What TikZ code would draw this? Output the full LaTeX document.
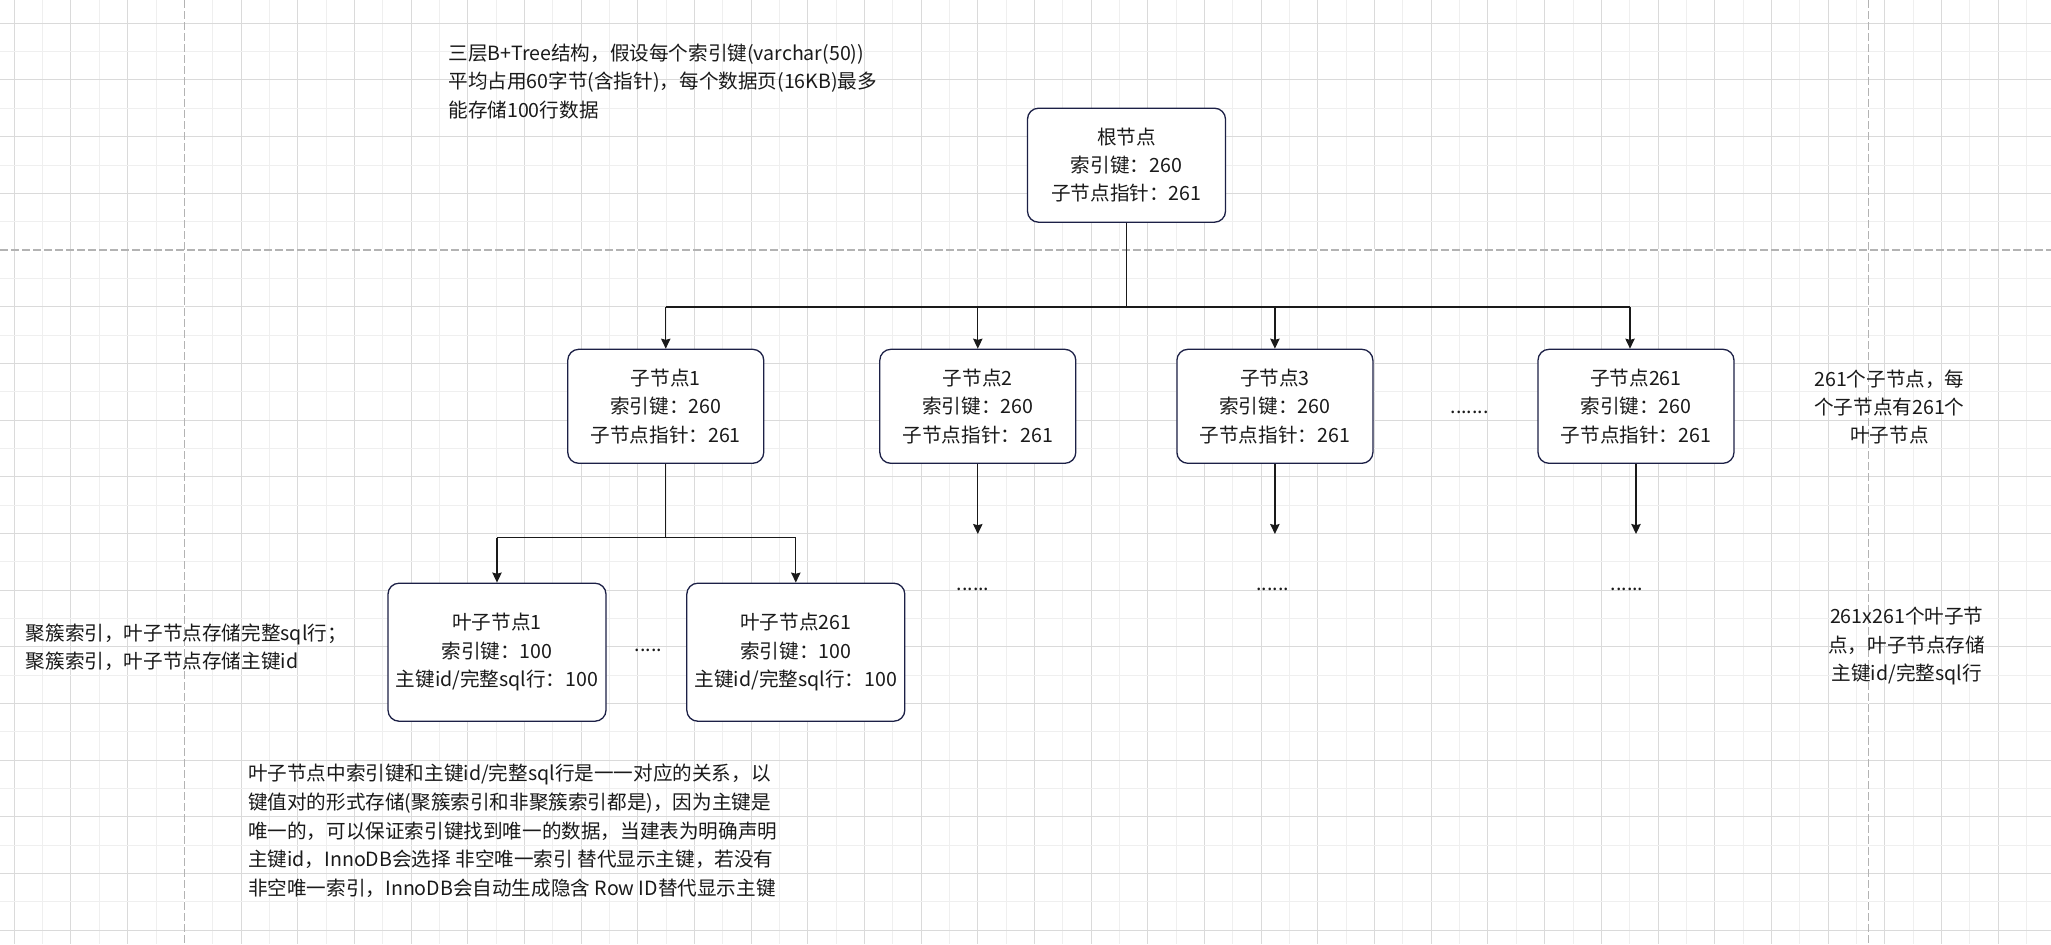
\documentclass[tikz,border=0pt]{standalone}
\usepackage{fontspec}
\setmainfont{Noto Sans CJK SC}
\usetikzlibrary{arrows.meta,calc}
\definecolor{gridD}{HTML}{DADADA}
\definecolor{gridL}{HTML}{EFEFEF}
\definecolor{pageb}{HTML}{B3B3B3}
\definecolor{boxc}{HTML}{1C2046}
\definecolor{txt}{HTML}{1A1A1A}
\begin{document}
\begin{tikzpicture}[x=0.5pt,y=-0.5pt,
  font=\fontsize{9.8pt}{14.15pt}\selectfont, text=txt,
  box/.style={draw=boxc, line width=0.65pt, rounded corners=5.5pt, fill=white, align=center, inner sep=0pt},
  childbox/.style={box, minimum width=98pt, minimum height=57pt},
  leafbox/.style={box, minimum width=109pt, minimum height=69pt},
  ln/.style={draw=txt, line width=0.65pt},
  arr/.style={draw=txt, line width=0.65pt, -{Stealth[length=5pt,width=4.7pt,inset=0.6pt]}},
  note/.style={inner sep=0pt},
  dots/.style={inner sep=0pt}]
\useasboundingbox (0,0) rectangle (2051,944);
\fill[white] (0,0) rectangle (2051,944);
% grid
\foreach \k in {0,...,71}{
  \pgfmathsetmacro\xx{14.3+\k*28.34}
  \ifodd\k \def\gc{gridL}\else \def\gc{gridD}\fi
  \draw[\gc, line width=0.5pt] (\xx,0) -- (\xx,944);
}
\foreach \k in {0,...,32}{
  \pgfmathsetmacro\yy{23.3+\k*28.34}
  \ifodd\k \def\gc{gridL}\else \def\gc{gridD}\fi
  \draw[\gc, line width=0.5pt] (0,\yy) -- (2051,\yy);
}
% page breaks
\draw[white, line width=0.6pt] (184.3,0) -- (184.3,944) (1868.3,0) -- (1868.3,944) (0,250) -- (2051,250);
\draw[pageb, line width=0.6pt, dash pattern=on 4pt off 1.5pt] (184.3,0) -- (184.3,944);
\draw[pageb, line width=0.6pt, dash pattern=on 4pt off 1.5pt] (1868.3,0) -- (1868.3,944);
\draw[pageb, line width=0.6pt, dash pattern=on 4pt off 1.5pt] (0,250) -- (2051,250);

% nodes
\node[box, minimum width=99pt, minimum height=57pt] (root) at (1126.5,165.2) {根节点\\索引键：260\\子节点指针：261};
\node[childbox] (c1) at (665.75,406.3) {子节点1\\索引键：260\\子节点指针：261};
\node[childbox] (c2) at (977.8,406.3) {子节点2\\索引键：260\\子节点指针：261};
\node[childbox] (c3) at (1274.9,406.3) {子节点3\\索引键：260\\子节点指针：261};
\node[childbox] (c261) at (1636,406.3) {子节点261\\索引键：260\\子节点指针：261};
\node[leafbox] (l1) at (497,652.2) {叶子节点1\\索引键：100\\主键id/完整sql行：100};
\node[leafbox] (l261) at (795.8,652.2) {叶子节点261\\索引键：100\\主键id/完整sql行：100};

% connectors
\coordinate (bus) at (0,307);
\coordinate (lbus) at (0,537.6);
\coordinate (ebus) at (0,534);
\coordinate (c261in) at ([xshift=-3pt]c261.north);
\draw[ln] (root.south) -- (root.south |- bus);
\draw[ln] (c1.north |- bus) -- (c261in |- bus);
\draw[arr] (c1.north |- bus) -- (c1.north);
\draw[arr] (c2.north |- bus) -- (c2.north);
\draw[arr] (c3.north |- bus) -- (c3.north);
\draw[arr] (c261in |- bus) -- (c261in);
\draw[ln] (c1.south) -- (c1.south |- lbus);
\draw[ln] (l1.north |- lbus) -- (l261.north |- lbus);
\draw[arr] (l1.north |- lbus) -- (l1.north);
\draw[arr] (l261.north |- lbus) -- (l261.north);
\draw[arr] (c2.south) -- (c2.south |- ebus);
\draw[arr] (c3.south) -- (c3.south |- ebus);
\draw[arr] (c261.south) -- (c261.south |- ebus);

% dots
\node[dots] (dc) at (1469.7,412.7) {.......};
\node[dots] (dl) at (648.5,650) {.....};
\node[dots] (d2) at (973,589) {......};
\node[dots] (d3) at (1272.7,589) {......};
\node[dots] (d261) at (1627,589) {......};

% notes
\node[note, anchor=west, align=left] (top) at (448,81.5) {三层B+Tree结构，假设每个索引键(varchar(50))\\平均占用60字节(含指针)，每个数据页(16KB)最多\\能存储100行数据};
\node[note, anchor=west, align=left] (left) at (25.5,647.5) {聚簇索引，叶子节点存储完整sql行；\\聚簇索引，叶子节点存储主键id};
\node[note, anchor=west, align=left, font=\fontsize{9.8pt}{14.4pt}\selectfont] (bottom) at (247.7,830.8) {叶子节点中索引键和主键id/完整sql行是一一对应的关系，以\\键值对的形式存储(聚簇索引和非聚簇索引都是)，因为主键是\\唯一的，可以保证索引键找到唯一的数据，当建表为明确声明\\主键id，InnoDB会选择 非空唯一索引 替代显示主键，若没有\\非空唯一索引，InnoDB会自动生成隐含 Row ID替代显示主键};
\node[note, align=center] (r1) at (1889.4,407) {261个子节点，每\\个子节点有261个\\叶子节点};
\node[note, align=center] (r2) at (1906.7,646) {261x261个叶子节\\点，叶子节点存储\\主键id/完整sql行};
\end{tikzpicture}
\end{document}
